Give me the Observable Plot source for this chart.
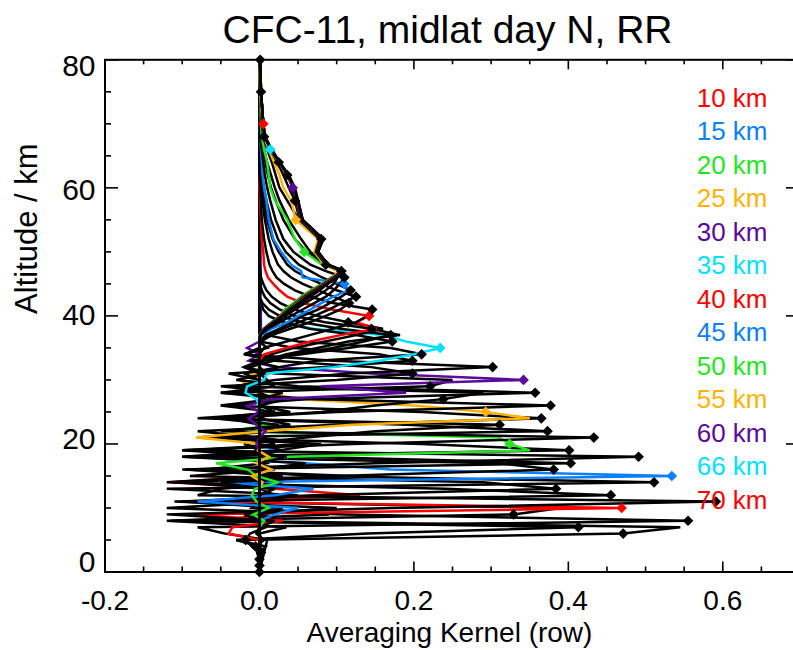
<!DOCTYPE html>
<html><head><meta charset="utf-8">
<script src="https://cdn.jsdelivr.net/npm/d3@7"></script>
<script src="https://cdn.jsdelivr.net/npm/@observablehq/plot@0.6"></script>
<style>
html,body{margin:0;padding:0;background:#fff;overflow:hidden;}
#chart svg{display:block;}
</style></head><body><div id="chart"></div>
<script>
// retrieval altitude grid (km)
const levels = [0,1,2,3,4,5,6,7,8,9,10,11,12,13,14,15,16,17,18,19,20,21,22,23,24,25,26,27,28,29,30,31,32,33,34,35,36,37,38,39,40,41,42,43,44,45,46,47,48,50,52,55,58,60,62,64,66,68,70,75,80];
// nominal altitude of each kernel row
const rowAlt = [0,1,2,3,4,5,6,7,8,9,10,11,12,13,14,15,16,17,18,19,20,21,22,23,24,25,26,27,28,29,30,31,32,33,34,35,36,37,38,39,40,41,42,43,44,45,46,47,48,50,52,55,58,60,62,64,66,68,70,75,80];
// first grid altitude of the values listed for each row (outside: ~0)
const rowStart = [0,0,0,1,2,3,3,4,5,6,4,7,8,9,10,8,12,13,14,15,7,17,18,19,20,13,22,23,24,25,19,27,28,29,30,26,30,31,31,33,33,34,35,35,35,36,36,36,36,36,36,36,36,36,36,36,36,36,36,36,36];
// kernel row values on consecutive grid levels starting at rowStart
const rowVals = [
 [0.0,0.002,0.0],
 [0.0,0.0,0.003,-0.002,0.0],
 [0.0,0.002,0.0,-0.003,0.002,0.0],
 [0.0,-0.002,0.002,0.0,0.003,0.0],
 [0.0,0.004,-0.005,0.006,-0.004,0.0],
 [0.0,-0.01,-0.018,-0.012,0.008,0.0],
 [0.0,0.008,-0.03,0.471,0.545,-0.045,0.01,0.0],
 [0.0,-0.03,0.14,0.413,-0.115,0.09,-0.01,0.0],
 [0.01,-0.045,-0.08,0.555,0.11,-0.12,0.03,0.0],
 [0.0,0.035,-0.12,0.329,0.39,-0.065,0.02,0.0],
 [0.0,0.0,-0.04,-0.035,0.03,-0.09,0.469,-0.06,0.13,0.02,-0.115,0.01,0.0],
 [0.0,0.02,-0.12,0.17,0.591,-0.08,-0.05,0.03,0.0],
 [0.0,-0.02,0.10,-0.11,0.455,0.24,-0.12,0.02,0.0],
 [0.0,0.03,-0.10,0.07,0.384,0.29,-0.09,0.02,0.0],
 [0.0,0.0,0.05,-0.12,0.511,0.075,-0.07,0.01,0.0],
 [0.0,0.02,0.05,-0.08,0.02,0.07,-0.05,0.534,0.17,0.06,-0.095,0.02,0.0],
 [0.0,0.02,-0.11,0.10,0.381,0.31,-0.10,0.03,0.0],
 [0.0,-0.05,0.12,-0.10,0.403,0.05,-0.06,0.02,0.0],
 [0.0,0.03,-0.095,0.15,0.491,-0.10,0.06,0.0],
 [0.0,0.0,0.06,-0.10,0.401,0.21,-0.08,0.02,0.0],
 [0.0,0.006,-0.008,0.012,-0.004,-0.01,-0.006,0.025,-0.004,-0.015,-0.056,0.04,0.35,0.324,0.31,-0.035,0.015,-0.027,0.006,0.0],
 [0.0,0.035,-0.10,0.12,0.433,-0.05,0.04,0.0],
 [0.0,0.025,0.08,-0.08,0.373,0.19,-0.06,0.02,0.0],
 [0.0,-0.02,0.06,0.15,0.311,-0.08,0.04,0.0],
 [0.0,0.0,-0.08,0.10,0.365,0.21,-0.05,0.02,0.0],
 [0.0,0.004,-0.01,0.016,-0.004,0.012,-0.002,0.0,-0.082,0.008,0.12,0.35,0.293,0.20,0.045,0.016,-0.012,-0.025,-0.004,0.0],
 [0.0,0.025,-0.06,0.10,0.377,0.075,-0.05,0.02,0.0],
 [0.0,-0.04,0.08,0.15,0.238,0.29,-0.03,0.01,0.0],
 [0.0,0.02,-0.05,0.06,0.357,0.05,-0.03,0.01,0.0],
 [0.0,0.0,0.035,-0.05,0.221,0.25,0.02,-0.02,0.0],
 [0.0,-0.004,0.0,0.008,-0.004,-0.014,0.0,-0.016,0.015,0.19,0.08,0.342,0.145,0.02,-0.014,0.0,-0.016,0.0,0.002],
 [0.0,0.03,-0.05,0.10,0.198,0.145,0.02,-0.02,0.0],
 [0.0,-0.03,0.02,0.115,0.302,0.095,-0.02,0.01,0.0],
 [0.0,0.0,-0.04,0.085,0.198,0.155,0.045,0.0,0.0],
 [0.0,0.0,0.025,0.075,0.21,0.17,0.05,0.01,0.0],
 [0.0,-0.004,-0.018,-0.016,0.006,0.01,0.096,0.155,0.20,0.234,0.19,0.16,0.07,0.03,0.012,0.005,0.002,0.001,0.0],
 [0.0,-0.02,0.025,-0.012,0.055,0.115,0.172,0.125,0.065,0.03,0.012,0.005,0.002,0.0],
 [0.0,-0.012,0.018,0.045,0.095,0.135,0.17,0.105,0.055,0.026,0.012,0.004,0.0],
 [0.0,-0.02,0.006,0.035,0.075,0.115,0.182,0.145,0.085,0.045,0.026,0.014,0.007,0.003,0.001,0.0],
 [0.0,0.015,0.045,0.085,0.125,0.16,0.115,0.075,0.045,0.027,0.016,0.009,0.005,0.002,0.001,0.0],
 [0.0,0.006,0.035,0.066,0.105,0.152,0.125,0.142,0.094,0.056,0.036,0.026,0.018,0.011,0.008,0.006,0.005,0.003,0.002,0.001,0.0],
 [0.0,0.006,0.035,0.065,0.095,0.125,0.14,0.146,0.095,0.066,0.046,0.032,0.022,0.017,0.013,0.009,0.006,0.003,0.002,0.001,0.0],
 [0.0,0.002,0.016,0.04,0.065,0.086,0.105,0.116,0.096,0.076,0.056,0.041,0.031,0.024,0.017,0.012,0.007,0.004,0.002,0.001,0.0],
 [0.0,0.001,0.011,0.031,0.051,0.071,0.09,0.106,0.125,0.1,0.08,0.061,0.046,0.036,0.025,0.017,0.01,0.006,0.003,0.002,0.001,0.0],
 [0.0,0.0,0.008,0.026,0.041,0.056,0.076,0.091,0.106,0.118,0.1,0.081,0.066,0.051,0.034,0.024,0.015,0.009,0.006,0.003,0.002,0.001,0.0],
 [0.0,0.002,0.016,0.036,0.05,0.066,0.08,0.096,0.115,0.11,0.056,0.054,0.041,0.028,0.018,0.012,0.009,0.006,0.004,0.003,0.002,0.001,0.0],
 [0.0,0.001,0.011,0.026,0.041,0.056,0.071,0.086,0.096,0.104,0.11,0.086,0.066,0.044,0.031,0.021,0.014,0.01,0.007,0.005,0.003,0.001,0.0],
 [0.0,0.0,0.008,0.021,0.034,0.046,0.059,0.073,0.086,0.096,0.101,0.106,0.086,0.061,0.046,0.031,0.021,0.015,0.011,0.008,0.004,0.002,0.001,0.0],
 [0.0,0.0,0.007,0.018,0.03,0.042,0.054,0.066,0.078,0.088,0.096,0.104,0.086,0.066,0.054,0.038,0.026,0.02,0.015,0.01,0.006,0.003,0.002,0.0],
 [0.0,0.0,0.006,0.016,0.028,0.032,0.044,0.054,0.066,0.081,0.093,0.106,0.081,0.058,0.046,0.036,0.02,0.014,0.012,0.01,0.006,0.003,0.002,0.001,0.0],
 [0.0,0.0,0.006,0.016,0.026,0.036,0.046,0.056,0.069,0.082,0.094,0.106,0.086,0.073,0.08,0.051,0.036,0.026,0.021,0.016,0.01,0.005,0.003,0.001,0.0],
 [0.0,0.0,0.007,0.017,0.027,0.037,0.047,0.057,0.07,0.083,0.095,0.102,0.084,0.071,0.076,0.047,0.041,0.031,0.026,0.019,0.012,0.006,0.004,0.001,0.0],
 [0.0,0.001,0.007,0.018,0.028,0.038,0.048,0.058,0.071,0.084,0.096,0.106,0.086,0.073,0.078,0.052,0.046,0.038,0.031,0.023,0.014,0.007,0.005,0.002,0.0],
 [0.0,0.001,0.007,0.018,0.029,0.039,0.049,0.059,0.072,0.085,0.097,0.107,0.087,0.074,0.08,0.053,0.047,0.043,0.036,0.025,0.015,0.007,0.005,0.002,0.001],
 [0.0,0.001,0.008,0.019,0.029,0.039,0.05,0.06,0.073,0.086,0.098,0.108,0.087,0.074,0.081,0.054,0.048,0.044,0.036,0.026,0.016,0.007,0.005,0.002,0.001],
 [0.0,0.001,0.008,0.019,0.03,0.04,0.05,0.06,0.073,0.086,0.098,0.108,0.088,0.075,0.081,0.055,0.048,0.044,0.037,0.025,0.016,0.007,0.005,0.002,0.001],
 [0.0,0.001,0.008,0.019,0.03,0.04,0.05,0.061,0.074,0.087,0.099,0.108,0.088,0.075,0.082,0.055,0.049,0.045,0.037,0.025,0.014,0.007,0.005,0.002,0.001],
 [0.0,0.001,0.008,0.019,0.03,0.04,0.051,0.061,0.074,0.087,0.099,0.109,0.088,0.075,0.082,0.055,0.049,0.045,0.037,0.026,0.015,0.006,0.005,0.002,0.001],
 [0.0,0.001,0.008,0.02,0.031,0.041,0.051,0.061,0.074,0.087,0.099,0.109,0.088,0.076,0.082,0.056,0.049,0.045,0.037,0.026,0.015,0.007,0.005,0.002,0.001],
 [0.0,0.001,0.008,0.02,0.031,0.041,0.051,0.062,0.075,0.088,0.1,0.109,0.089,0.076,0.082,0.056,0.05,0.045,0.038,0.026,0.015,0.007,0.005,0.002,0.001],
 [0.0,0.001,0.008,0.02,0.031,0.041,0.052,0.062,0.075,0.088,0.1,0.11,0.089,0.076,0.083,0.056,0.05,0.046,0.038,0.026,0.015,0.007,0.005,0.002,0.001]
];
// legend / highlighted rows
const legendAlt = [10,15,20,25,30,35,40,45,50,55,60,66,70];
const legendLabel = ["10 km","15 km","20 km","25 km","30 km","35 km","40 km","45 km","50 km","55 km","60 km","66 km","70 km"];
const legendColor = ["#ff0000","#0a80ff","#22e622","#ffb300","#5b0a9c","#00e1ff","#ff0000","#0a80ff","#22e622","#ffb300","#5b0a9c","#00e1ff","#ff0000"];
// axes
const xMajor = [-0.2,0.0,0.2,0.4,0.6];
const xMajorLabel = ["-0.2","0.0","0.2","0.4","0.6"];
const xMinor = [-0.15,-0.1,-0.05,0.05,0.1,0.15,0.25,0.3,0.35,0.45,0.5,0.55,0.65];
const yMajor = [0,20,40,60,80];
const yMajorLabel = ["0","20","40","60","80"];
const yMinor = [5,10,15,25,30,35,45,50,55,65,70,75];
const titleText = "CFC-11, midlat day N, RR";
const xLabel = "Averaging Kernel (row)";
const yLabel = "Altitude / km";

// build marks data
const pts = [], dia = [];
rowAlt.forEach((z, r) => {
  const s = levels.indexOf(rowStart[r]);
  const vals = rowVals[r];
  const li = legendAlt.indexOf(z);
  const c = li >= 0 ? legendColor[li] : "#000000";
  if (rowStart[r] > 0) pts.push({row: r, alt: 0, v: 0, c});
  vals.forEach((v, i) => pts.push({row: r, alt: levels[s + i], v, c}));
  if (levels[s + vals.length - 1] < 80) pts.push({row: r, alt: 80, v: 0, c});
  dia.push({row: r, alt: z, v: vals[levels.indexOf(z) - s], c});
});

const W = 793, H = 650, mL = 104.5, mR = -6.5, mT = 59.3, mB = 78.5;
const iW = W - mL - mR, iH = H - mT - mB;
const yLabDy = [-10, -5, -1, 3, 7];

const marks = [
  Plot.line(pts, {x: "v", y: "alt", z: "row", stroke: "c", strokeWidth: 2.5, strokeLinejoin: "miter", strokeMiterlimit: 3}),
  Plot.dot(dia, {x: "v", y: "alt", fill: "c", symbol: "diamond2", r: 4.8, stroke: null}),
  Plot.frame({stroke: "black", strokeWidth: 2}),
  Plot.ruleX(xMajor, {x: d => d, insetTop: iH - 10, stroke: "black", strokeWidth: 1.6}),
  Plot.ruleX(xMajor, {x: d => d, insetBottom: iH - 10, stroke: "black", strokeWidth: 1.6}),
  Plot.ruleX(xMinor, {x: d => d, insetTop: iH - 5, stroke: "black", strokeWidth: 1.6}),
  Plot.ruleX(xMinor, {x: d => d, insetBottom: iH - 5, stroke: "black", strokeWidth: 1.6}),
  Plot.ruleY(yMajor, {y: d => d, insetRight: iW - 13.5, stroke: "black", strokeWidth: 1.6}),
  Plot.ruleY(yMajor, {y: d => d, insetLeft: iW - 13.5, stroke: "black", strokeWidth: 1.6}),
  Plot.ruleY(yMinor, {y: d => d, insetRight: iW - 6.5, stroke: "black", strokeWidth: 1.6}),
  Plot.ruleY(yMinor, {y: d => d, insetLeft: iW - 6.5, stroke: "black", strokeWidth: 1.6}),
  Plot.text(xMajor, {x: d => d, text: (d, i) => xMajorLabel[i], frameAnchor: "bottom", lineAnchor: "middle", dy: 29, fontSize: 28, fill: "black"}),
  ...yMajor.map((v, i) => Plot.text([v], {y: d => d, text: () => yMajorLabel[i], frameAnchor: "left", lineAnchor: "middle", textAnchor: "end", dx: -9.5, dy: yLabDy[i], fontSize: 30, fill: "black"})),
  Plot.text([titleText], {text: d => d, frameAnchor: "top", lineAnchor: "middle", dx: -5, dy: -29, fontSize: 39, fill: "black"}),
  Plot.text([xLabel], {text: d => d, frameAnchor: "bottom", lineAnchor: "middle", dx: -3, dy: 61.5, fontSize: 28, fill: "black"}),
  Plot.text([yLabel], {text: d => d, frameAnchor: "left", lineAnchor: "middle", rotate: -90, dx: -78, dy: -2, fontSize: 31, fill: "black"}),
  ...legendLabel.map((lab, i) => Plot.text([lab], {text: d => d, frameAnchor: "top-right", lineAnchor: "middle", textAnchor: "end", dx: -32.5, dy: 38.7 + 33.5 * i, fontSize: 26, fill: legendColor[i]}))
];

const chart = Plot.plot({
  width: W, height: H,
  marginLeft: mL, marginRight: mR, marginTop: mT, marginBottom: mB,
  x: {domain: [-0.2, 0.7], axis: null},
  y: {domain: [0, 80], axis: null},
  color: {type: "identity"},
  style: {fontFamily: "'Liberation Sans', Arial, Helvetica, sans-serif", background: "white"},
  marks
});
document.getElementById("chart").appendChild(chart);
</script></body></html>
